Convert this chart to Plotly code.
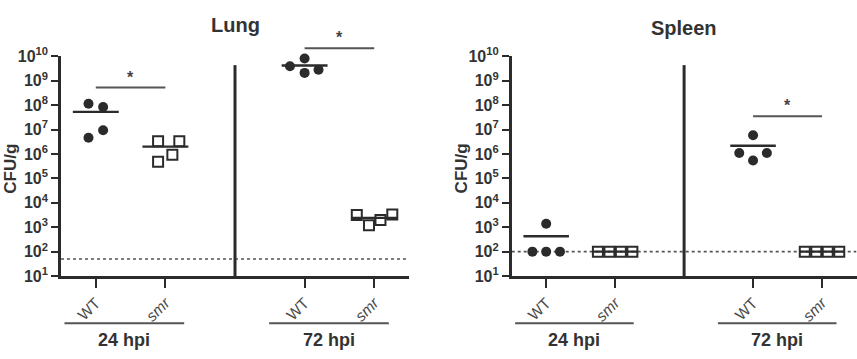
import numpy as np
import plotly.graph_objects as go

# ---------------- data ----------------
panels = ["Lung", "Spleen"]
strains = ["WT", "<i>smr</i>", "WT", "<i>smr</i>"]
time_points = ["24 hpi", "72 hpi"]

lung_wt_24 = [1.15e8, 8.4e7, 9.4e6, 4.6e6]
lung_smr_24 = [3.3e6, 3.3e6, 9.2e5, 4.8e5]
lung_wt_72 = [8.1e9, 3.9e9, 2.8e9, 2.1e9]
lung_smr_72 = [3.2e3, 1.2e3, 2.0e3, 3.3e3]

spleen_wt_24 = [1.4e3, 1.0e2, 1.0e2, 1.0e2]
spleen_smr_24 = [1.0e2, 1.0e2, 1.0e2, 1.0e2]
spleen_wt_72 = [5.9e6, 1.1e6, 1.1e6, 5.4e5]
spleen_smr_72 = [1.0e2, 1.0e2, 1.0e2, 1.0e2]

lung_limit = 50
spleen_limit = 100

ytick_exponents = list(range(1, 11))

# ---------------- layout / style ----------------
W, H = 857, 359
FONT = "Liberation Sans, Arial, sans-serif"
DARK = "#2b2b2b"
GRAY = "#555555"
cat_pos = [0, 1, 3, 4]
XR = [-0.5, 4.5]
DOMS = [[61 / W, 409 / W], [511.7 / W, 856.5 / W]]
YDOM = [1 - 280.7 / H, 1 - 48 / H]

# horizontal jitter of the points (display only)
jit = {
    "lung": [[-0.105, 0.105, 0.105, -0.105], [-0.105, 0.2, 0.1, -0.105],
             [0, -0.21, 0.2, 0], [-0.25, -0.075, 0.09, 0.26]],
    "spleen": [[0, -0.2, 0, 0.2], [-0.25, -0.083, 0.083, 0.25],
               [0, -0.2, 0.2, 0], [-0.25, -0.083, 0.083, 0.25]],
}
# significance bars: panel index, from-category, to-category, log10 height
sig_bars = [(0, 0, 1, 8.72), (0, 3, 4, 10.33), (1, 3, 4, 7.55)]


def px(p, pos):
    d = DOMS[p]
    return d[0] + (pos - XR[0]) / (XR[1] - XR[0]) * (d[1] - d[0])


def py(logv):
    return YDOM[0] + (logv - 1) / 9 * (YDOM[1] - YDOM[0])


fig = go.Figure()

panel_data = [
    ("lung", [lung_wt_24, lung_smr_24, lung_wt_72, lung_smr_72], lung_limit),
    ("spleen", [spleen_wt_24, spleen_smr_24, spleen_wt_72, spleen_smr_72], spleen_limit),
]

for p, (name, groups, limit) in enumerate(panel_data):
    xa = "x" if p == 0 else "x2"
    ya = "y" if p == 0 else "y2"
    # detection limit dotted line
    fig.add_trace(go.Scatter(x=XR, y=[limit, limit], mode="lines", xaxis=xa, yaxis=ya,
                             line=dict(color=GRAY, width=1.6, dash="dot"), showlegend=False,
                             hoverinfo="skip"))
    for g, vals in enumerate(groups):
        c = cat_pos[g]
        m = float(np.mean(vals))
        fig.add_trace(go.Scatter(x=[c - 0.33, c + 0.33], y=[m, m], mode="lines",
                                 xaxis=xa, yaxis=ya, line=dict(color=DARK, width=2.4),
                                 showlegend=False, hoverinfo="skip"))
    for g, vals in enumerate(groups):
        c = cat_pos[g]
        xs = [c + o for o in jit[name][g]]
        is_wt = g in (0, 2)
        marker = (dict(symbol="circle", size=10, color=DARK) if is_wt else
                  dict(symbol="square-open", size=10, color=DARK, line=dict(width=2, color=DARK)))
        fig.add_trace(go.Scatter(x=xs, y=vals, mode="markers", xaxis=xa, yaxis=ya,
                                 marker=marker, showlegend=False, cliponaxis=False))

tickvals = [10.0 ** e for e in ytick_exponents]
ticktext = [f"<b>10<sup>{e}</sup></b>" for e in ytick_exponents]

axis_common = dict(showgrid=False, zeroline=False, showline=True, linecolor=DARK, linewidth=2.6,
                   ticks="outside", tickcolor=DARK, tickwidth=2.4)
for p in range(2):
    sx = "xaxis" if p == 0 else "xaxis2"
    sy = "yaxis" if p == 0 else "yaxis2"
    fig.layout[sx] = dict(axis_common, domain=DOMS[p], range=XR, tickmode="array",
                          tickvals=cat_pos, ticktext=strains, tickangle=-45, ticklen=9,
                          anchor="y" if p == 0 else "y2",
                          tickfont=dict(family=FONT, size=15.5, color="#4a4a4a"))
    fig.layout[sy] = dict(axis_common, domain=YDOM, type="log", range=[1, 10], tickmode="array",
                          tickvals=tickvals, ticktext=ticktext, ticklen=7,
                          anchor="x" if p == 0 else "x2",
                          tickfont=dict(family=FONT, size=16, color="#333333"))

shapes = []
annotations = []
# panel separators
for p in range(2):
    shapes.append(dict(type="line", xref="paper", yref="paper", x0=px(p, 2), x1=px(p, 2),
                       y0=py(1), y1=py(9.64), line=dict(color=DARK, width=3)))
# significance bars + stars
for p, a, b, lv in sig_bars:
    shapes.append(dict(type="line", xref="paper", yref="paper", x0=px(p, a), x1=px(p, b),
                       y0=py(lv), y1=py(lv), line=dict(color=GRAY, width=2)))
    annotations.append(dict(text="<b>*</b>", xref="paper", yref="paper", x=px(p, (a + b) / 2),
                            y=py(lv), xanchor="center", yanchor="bottom", showarrow=False,
                            font=dict(family=FONT, size=16, color="#444444")))
# group labels under axis
group_spans = [(-0.45, 1.27), (2.49, 4.21)]
for p in range(2):
    for (a, b), lab in zip(group_spans, time_points):
        shapes.append(dict(type="line", xref="paper", yref="paper", x0=px(p, a), x1=px(p, b),
                           y0=1 - 330.7 / H, y1=1 - 330.7 / H, line=dict(color=GRAY, width=2)))
        annotations.append(dict(text=f"<b>{lab}</b>", xref="paper", yref="paper",
                                x=px(p, (a + b) / 2), y=1 - 348 / H, xanchor="center",
                                yanchor="middle", showarrow=False,
                                font=dict(family=FONT, size=18, color="#333333")))
    # y title
    annotations.append(dict(text="<b>CFU/g</b>", xref="paper", yref="paper",
                            x=(DOMS[p][0] * W - 50) / W, y=1 - 167 / H, textangle=-90,
                            xanchor="center", yanchor="middle", showarrow=False,
                            font=dict(family=FONT, size=17, color="#333333")))
# panel titles
title_y = [15, 17.5]
for p, t in enumerate(panels):
    annotations.append(dict(text=f"<b>{t}</b>", xref="paper", yref="paper",
                            x=(DOMS[p][0] + DOMS[p][1]) / 2, y=1 - title_y[p] / H,
                            xanchor="center", yanchor="middle", showarrow=False,
                            font=dict(family=FONT, size=20, color="#333333")))

fig.update_layout(width=W, height=H, margin=dict(l=0, r=0, t=0, b=0),
                  plot_bgcolor="white", paper_bgcolor="white", shapes=shapes,
                  annotations=annotations, showlegend=False,
                  font=dict(family=FONT, color="#333333"))

fig.write_html("out.html")
